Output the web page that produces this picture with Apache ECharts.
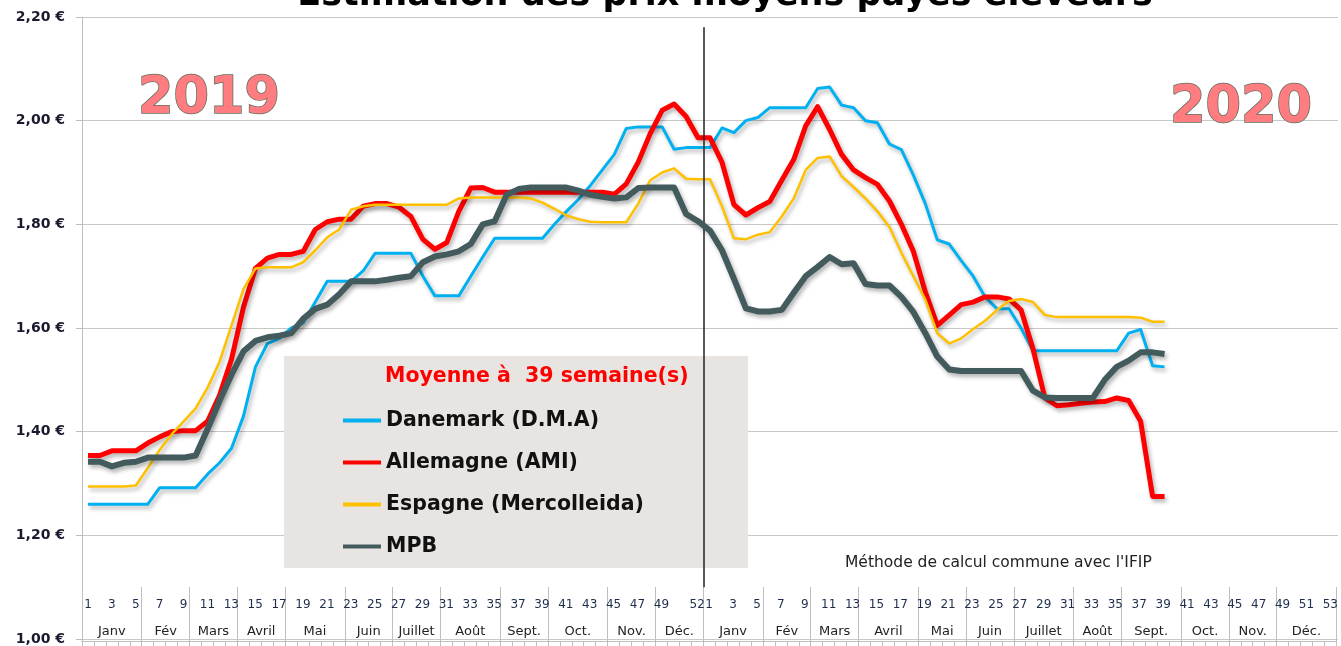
<!DOCTYPE html>
<html>
<head>
<meta charset="utf-8">
<script src="https://cdn.jsdelivr.net/npm/echarts@6/dist/echarts.min.js"></script>
<style>
html, body { margin: 0; padding: 0; background: #fff; }
#main { width: 1341px; height: 646px; }
</style>
</head>
<body>
<div id="main"></div>
<script>
// semaines : 52 en 2019, 53 en 2020
var WEEKS_2019 = 52;
var WEEKS_2020 = 53;
var MONTHS = ['Janv', 'Fév', 'Mars', 'Avril', 'Mai', 'Juin', 'Juillet', 'Août', 'Sept.', 'Oct.', 'Nov.', 'Déc.'];
var MONTH_WEEKS_2019 = [5, 4, 4, 4, 5, 4, 4, 5, 4, 5, 4, 4];
var MONTH_WEEKS_2020 = [5, 4, 4, 5, 4, 4, 5, 4, 5, 4, 4, 5];

// prix (€/kg), sem. 1 2019 -> sem. 39 2020
var DANEMARK = [
    1.26, 1.26, 1.26, 1.26, 1.26, 1.26, 1.292, 1.292, 1.292, 1.292,
    1.318, 1.34, 1.368, 1.43, 1.525, 1.57, 1.58, 1.60, 1.61, 1.65,
    1.69, 1.69, 1.69, 1.71, 1.744, 1.744, 1.744, 1.744, 1.70, 1.662,
    1.662, 1.662, 1.70, 1.737, 1.773, 1.773, 1.773, 1.773, 1.773, 1.80,
    1.825, 1.848, 1.875, 1.905, 1.935, 1.985, 1.988, 1.988, 1.988, 1.945,
    1.948, 1.948,
    1.948, 1.986, 1.977, 2.0, 2.006, 2.025, 2.025, 2.025, 2.025, 2.062,
    2.065, 2.03, 2.025, 2.0, 1.996, 1.955, 1.944, 1.895, 1.84, 1.77,
    1.762, 1.73, 1.70, 1.66, 1.637, 1.637, 1.60, 1.556, 1.556, 1.556,
    1.556, 1.556, 1.556, 1.556, 1.556, 1.59, 1.597, 1.527, 1.525
];
var ALLEMAGNE = [
    1.354, 1.354, 1.363, 1.363, 1.363, 1.378, 1.39, 1.40, 1.402, 1.402,
    1.42, 1.47, 1.54, 1.64, 1.715, 1.735, 1.742, 1.742, 1.748, 1.79,
    1.805, 1.81, 1.81, 1.835, 1.84, 1.84, 1.833, 1.815, 1.771, 1.752,
    1.765, 1.825, 1.87, 1.871, 1.862, 1.862, 1.862, 1.862, 1.862, 1.862,
    1.862, 1.862, 1.862, 1.862, 1.858, 1.878, 1.92, 1.975, 2.02, 2.032,
    2.008, 1.967,
    1.967, 1.92, 1.838, 1.818, 1.832, 1.844, 1.885, 1.925, 1.99, 2.027,
    1.983, 1.935, 1.905, 1.89, 1.877, 1.845, 1.80, 1.748, 1.67, 1.605,
    1.625, 1.645, 1.65, 1.66, 1.66, 1.656, 1.635, 1.56, 1.465, 1.45,
    1.452, 1.455, 1.457, 1.458, 1.465, 1.46, 1.42, 1.275, 1.275
];
var ESPAGNE = [
    1.294, 1.294, 1.294, 1.294, 1.296, 1.33, 1.365, 1.395, 1.42, 1.445,
    1.485, 1.535, 1.605, 1.675, 1.715, 1.717, 1.717, 1.717, 1.727, 1.75,
    1.775, 1.79, 1.828, 1.835, 1.838, 1.838, 1.838, 1.838, 1.838, 1.838,
    1.838, 1.85, 1.852, 1.852, 1.852, 1.852, 1.852, 1.85, 1.842, 1.83,
    1.817, 1.81, 1.805, 1.804, 1.804, 1.804, 1.84, 1.885, 1.90, 1.908,
    1.888, 1.887,
    1.887, 1.835, 1.773, 1.771, 1.78, 1.785, 1.815, 1.85, 1.905, 1.928,
    1.931, 1.893, 1.872, 1.85, 1.825, 1.795, 1.745, 1.70, 1.655, 1.59,
    1.57, 1.58, 1.598, 1.614, 1.635, 1.652, 1.656, 1.65, 1.625, 1.621,
    1.621, 1.621, 1.621, 1.621, 1.621, 1.621, 1.62, 1.612, 1.612
];
var MPB = [
    1.342, 1.342, 1.333, 1.34, 1.342, 1.35, 1.35, 1.35, 1.35, 1.354,
    1.405, 1.46, 1.51, 1.555, 1.575, 1.582, 1.585, 1.59, 1.618, 1.637,
    1.645, 1.665, 1.69, 1.69, 1.69, 1.693, 1.697, 1.70, 1.727, 1.738,
    1.742, 1.748, 1.762, 1.80, 1.806, 1.857, 1.868, 1.871, 1.871, 1.871,
    1.871, 1.865, 1.857, 1.853, 1.85, 1.852, 1.87, 1.871, 1.871, 1.871,
    1.82, 1.806,
    1.788, 1.75, 1.695, 1.638, 1.632, 1.632, 1.635, 1.668, 1.70, 1.718,
    1.737, 1.723, 1.725, 1.685, 1.682, 1.682, 1.66, 1.631, 1.59, 1.545,
    1.52, 1.517, 1.517, 1.517, 1.517, 1.517, 1.517, 1.479, 1.466, 1.465,
    1.465, 1.465, 1.465, 1.50, 1.525, 1.537, 1.553, 1.553, 1.55
];

var SERIES_NAMES = ['Danemark (D.M.A)', 'Allemagne (AMI)', 'Espagne (Mercolleida)', 'MPB'];
var SERIES_COLORS = ['#00b0f0', '#ff0000', '#ffc000', '#435b5d'];
var SERIES_WIDTHS = [3, 5, 2.5, 6];

var FONT = 'DejaVu Sans';

//construire les categories (une par semaine) et le decoupage en mois
var weekNum = [];
var weekShown = [];
for (var w = 1; w <= WEEKS_2019; w++) {
    weekNum.push(w);
    weekShown.push(w % 2 == 1 && w < 51 || w == 52);
}
for (var w = 1; w <= WEEKS_2020; w++) {
    weekNum.push(w);
    weekShown.push(w % 2 == 1);
}
var categories = weekNum.map(function(w, i){ return 'c' + i; });

var monthStart = {};
var monthLabel = {};
function addMonths(counts, offset){
    var idx = offset;
    for (var m = 0; m < counts.length; m++) {
        monthStart[idx] = true;
        var n = counts[m];
        // mois a 4 semaines : etiquette decalee d'une demi-semaine
        monthLabel[idx + Math.floor((n - 1) / 2)] = { name: MONTHS[m], even: n % 2 == 0 };
        idx += n;
    }
}
addMonths(MONTH_WEEKS_2019, 0);
addMonths(MONTH_WEEKS_2020, WEEKS_2019);

function toPoints(arr){
    return arr.map(function(v, i){ return [i, v]; });
}

var series = [DANEMARK, ALLEMAGNE, ESPAGNE, MPB].map(function(arr, k){
    return {
        type: 'line',
        name: SERIES_NAMES[k],
        xAxisIndex: 0,
        yAxisIndex: 0,
        data: toPoints(arr),
        symbol: 'none',
        color: SERIES_COLORS[k],
        lineStyle: {
            width: SERIES_WIDTHS[k],
            color: SERIES_COLORS[k],
            join: 'round',
            shadowColor: 'rgba(0,0,0,0.3)',
            shadowBlur: 4,
            shadowOffsetX: 2,
            shadowOffsetY: 3
        },
        emphasis: { disabled: true },
        z: 2 + k
    };
});
// separation 2019 / 2020
series[0].markLine = {
    silent: true,
    symbol: ['none', 'none'],
    label: { show: false },
    lineStyle: { color: '#222', width: 1.5, type: 'solid' },
    data: [[{ coord: [51.5, 1.1] }, { coord: [51.5, 2.18] }]]
};

var chart = echarts.init(document.getElementById('main'));
var option = {
    animation: false,
    textStyle: { fontFamily: FONT },
    grid: [
        { left: 82, right: 3, top: 17, bottom: 5 },
        { left: 82, right: 3, top: 587, bottom: 5 }
    ],
    xAxis: [
        { type: 'value', gridIndex: 0, min: -0.5, max: 104.5, show: false },
        {
            type: 'category', gridIndex: 1, position: 'top', data: categories, boundaryGap: true,
            axisLine: { show: true, lineStyle: { color: '#bfbfbf', width: 1 } },
            axisTick: { show: true, inside: true, length: 31, interval: 0, lineStyle: { color: '#bfbfbf' } },
            axisLabel: {
                inside: true, interval: 0, margin: 12, fontSize: 12, color: '#1f2d4d', fontFamily: FONT,
                formatter: function(v, i){ return weekShown[i] ? String(weekNum[i]) : ''; }
            },
            splitLine: { show: false }
        },
        {
            type: 'category', gridIndex: 1, position: 'bottom', data: categories, boundaryGap: true,
            axisLine: { show: true, lineStyle: { color: '#bfbfbf', width: 1 } },
            axisTick: {
                show: true, inside: true, length: 54, lineStyle: { color: '#bfbfbf' },
                interval: function(i){ return !!monthStart[i]; }
            },
            axisLabel: {
                inside: true, interval: 0, margin: 3, fontSize: 13, color: '#222', fontFamily: FONT,
                formatter: function(v, i){
                    var m = monthLabel[i];
                    if (!m) return '';
                    return m.even ? '{e|' + m.name + '}' : '{o|' + m.name + '}';
                },
                rich: {
                    o: { fontSize: 13, color: '#222', fontFamily: FONT },
                    e: { fontSize: 13, color: '#222', fontFamily: FONT, padding: [0, 0, 0, 12] }
                }
            },
            splitLine: { show: false }
        },
        {
            type: 'category', gridIndex: 1, position: 'bottom', data: categories, boundaryGap: true,
            axisLine: { show: false },
            axisTick: {
                show: true, length: 5, lineStyle: { color: '#bfbfbf' },
                interval: function(i){ return !!monthStart[i]; }
            },
            axisLabel: { show: false },
            splitLine: { show: false }
        }
    ],
    yAxis: [
        {
            type: 'value', gridIndex: 0, min: 1, max: 2.2, interval: 0.2,
            axisLine: { show: true, onZero: false, lineStyle: { color: '#bfbfbf' } },
            axisTick: { show: true, length: 6, lineStyle: { color: '#bfbfbf' } },
            axisLabel: {
                margin: 17, fontSize: 14, fontWeight: 'bold', color: '#1a1a2e', fontFamily: FONT,
                formatter: function(v){ return v.toFixed(2).replace('.', ',') + ' €'; }
            },
            splitLine: { show: true, lineStyle: { color: '#c8c8c8', width: 1 } }
        },
        { type: 'value', gridIndex: 1, show: false }
    ],
    legend: {
        orient: 'vertical',
        left: 338,
        top: 405,
        itemWidth: 38,
        itemHeight: 4,
        itemGap: 21,
        icon: 'rect',
        selectedMode: false,
        data: SERIES_NAMES,
        textStyle: { fontFamily: FONT, fontWeight: 'bold', fontSize: 20.5, color: '#111' }
    },
    graphic: [
        {
            type: 'rect', z: 1, silent: true,
            shape: { x: 284, y: 356, width: 464, height: 212 },
            style: { fill: '#e7e4e1' }
        },
        {
            type: 'text', z: 10, silent: true,
            style: {
                text: 'Estimation des prix moyens payés éleveurs', x: 725, y: -4,
                align: 'center', verticalAlign: 'middle',
                font: 'bold 35px "DejaVu Sans"', fill: '#000'
            }
        },
        {
            type: 'text', z: 10, silent: true,
            style: {
                text: 'Moyenne à  39 semaine(s)', x: 385, y: 377,
                align: 'left', verticalAlign: 'middle',
                font: 'bold 20.5px "DejaVu Sans"', fill: '#ff0000'
            }
        },
        {
            type: 'text', z: 10, silent: true,
            style: {
                text: '2019', x: 209, y: 100, align: 'center', verticalAlign: 'middle',
                font: 'bold 51px "DejaVu Sans"', fill: '#ff7c80',
                stroke: '#5f7060', lineWidth: 1.5,
                shadowColor: 'rgba(0,0,0,0.35)', shadowBlur: 3, shadowOffsetX: 1, shadowOffsetY: 2
            }
        },
        {
            type: 'text', z: 10, silent: true,
            style: {
                text: '2020', x: 1241, y: 109, align: 'center', verticalAlign: 'middle',
                font: 'bold 51px "DejaVu Sans"', fill: '#ff7c80',
                stroke: '#5f7060', lineWidth: 1.5,
                shadowColor: 'rgba(0,0,0,0.35)', shadowBlur: 3, shadowOffsetX: 1, shadowOffsetY: 2
            }
        },
        {
            type: 'text', z: 10, silent: true,
            style: {
                text: "Méthode de calcul commune avec l'IFIP", x: 845, y: 563,
                align: 'left', verticalAlign: 'middle',
                font: '15.5px "DejaVu Sans"', fill: '#222'
            }
        }
    ],
    series: series
};
chart.setOption(option);
</script>
</body>
</html>
